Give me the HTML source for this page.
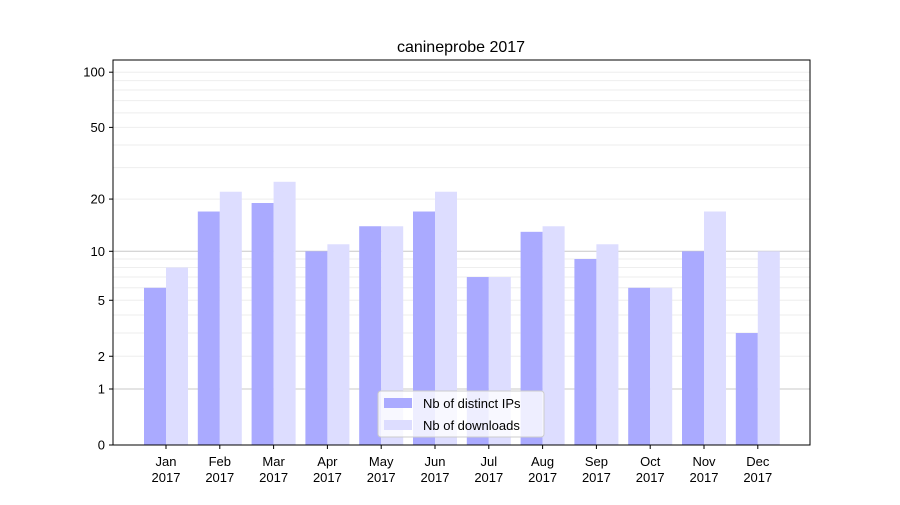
<!DOCTYPE html>
<html><head><meta charset="utf-8"><style>body{margin:0;background:#fff}svg{font-family:"Liberation Sans",sans-serif}</style></head>
<body>
<svg id="c" width="900" height="500"></svg>
<script>
const months=["Jan","Feb","Mar","Apr","May","Jun","Jul","Aug","Sep","Oct","Nov","Dec"];
const ips=[6,17,19,10,14,17,7,13,9,6,10,3];
const downloads=[8,22,25,11,14,22,7,14,11,6,17,10];
const yTicks=[0,1,2,5,10,20,50,100];
const NS="http://www.w3.org/2000/svg";
const svg=document.getElementById('c');
const L=113,R=810,T=60,B=445;
function y(v){return B-186*Math.log10(v+1);}
function x(i){return 166+i*53.8;}
function el(t,a,p){const e=document.createElementNS(NS,t);for(const k in a)e.setAttribute(k,a[k]);(p||svg).appendChild(e);return e;}
// minor grid
const minor=[];for(let d=1;d<=100;d*=10)for(let m=1;m<10;m++){const v=d*m;if(v<=116)minor.push(v);}
minor.forEach(v=>{const g=el('line',{x1:L,x2:R,y1:y(v),y2:y(v),stroke:(v===1||v===10)?'#c8c8c8':'#eeeeee','stroke-width':1});

});
// bars
ips.forEach((v,i)=>{const r=el('rect',{x:x(i)-22,y:y(v),width:22,height:B-y(v),fill:'#aaaaff'});

});
downloads.forEach((v,i)=>{const r=el('rect',{x:x(i),y:y(v),width:22,height:B-y(v),fill:'#ddddff'});

});
// frame
const f=el('rect',{x:L,y:T,width:R-L,height:B-T,fill:'none',stroke:'#000','stroke-width':1});


// y ticks
yTicks.forEach(v=>{el('line',{x1:L-4,x2:L,y1:y(v),y2:y(v),stroke:'#000'});
const t=el('text',{x:L-8,y:y(v)+4.5,'text-anchor':'end','font-size':13});t.textContent=v;

});
// x ticks
months.forEach((m,i)=>{el('line',{x1:x(i),x2:x(i),y1:B,y2:B+4,stroke:'#000'});
const t=el('text',{x:x(i),y:B+21,'text-anchor':'middle','font-size':13});t.textContent=m;


const t2=el('text',{x:x(i),y:B+37,'text-anchor':'middle','font-size':13});t2.textContent='2017';

});
const ti=el('text',{x:461,y:52,'text-anchor':'middle','font-size':16});ti.textContent='canineprobe 2017';


// legend
const lg=el('g',{});


el('rect',{x:378,y:391,width:166,height:46,rx:3,fill:'#fff','fill-opacity':0.8,stroke:'#ccc'},lg);
el('rect',{x:384,y:398,width:28,height:10,fill:'#aaaaff'},lg);
el('rect',{x:384,y:420,width:28,height:10,fill:'#ddddff'},lg);
const a=el('text',{x:423,y:408,'font-size':13},lg);a.textContent='Nb of distinct IPs';


const b=el('text',{x:423,y:430,'font-size':13},lg);b.textContent='Nb of downloads';


</script>
</body></html>
